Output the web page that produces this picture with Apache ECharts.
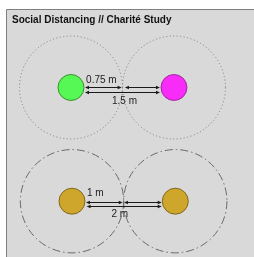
<!DOCTYPE html>
<html><head><meta charset="utf-8">
<script src="https://cdn.jsdelivr.net/npm/echarts@6/dist/echarts.min.js"></script>
<style>html,body{margin:0;padding:0;background:#fff}#c{width:254px;height:257px}</style>
</head><body><div id="c"></div>
<script>
const titleText = 'Social Distancing // Charité Study';
// person positions (m) along each row
const topPeople = [0, 1.5];
const bottomPeople = [0, 2];
// personal space radius (m)
const topRadius = [0.75, 0.75];
const bottomRadius = [1, 1];
// arrows: [x start, x end, y] in metres
const topArrows = [[0.204, 0.738, 0.0], [0.786, 1.296, 0.0], [0.204, 1.296, -0.063]];
const bottomArrows = [[0.271, 0.982, -0.01], [1.007, 1.737, -0.01], [0.283, 1.737, -0.087]];
// labels: text with [x, y] in metres
const topLabelText = ['0.75 m', '1.5 m'];
const topLabelPos = [[0.22, 0.10], [0.597, -0.207]];
const bottomLabelText = ['1 m', '2 m'];
const bottomLabelPos = [[0.29, 0.149], [0.765, -0.248]];

const chart = echarts.init(document.getElementById('c'), null, {renderer: 'canvas'});
const FONT = '"Liberation Sans", Arial, sans-serif';

function circleRender(stroke, dash) {
  return function (params, api) {
    const c = api.coord([api.value(0), 0]);
    const r = api.size([api.value(1), 0])[0];
    return {type: 'circle', shape: {cx: c[0], cy: c[1], r: r},
      style: {fill: 'none', stroke: stroke, lineWidth: 1, lineDash: dash}};
  };
}
function arrowRender(params, api) {
  const p1 = api.coord([api.value(0), api.value(2)]);
  const p2 = api.coord([api.value(1), api.value(2)]);
  const y = Math.round(p1[1]) + 0.5;
  const L = 4, H = 1.8, col = '#1a1a1a';
  return {type: 'group', children: [
    {type: 'line', shape: {x1: p1[0] + 2, y1: y, x2: p2[0] - 2, y2: y}, style: {stroke: col, lineWidth: 1}},
    {type: 'polygon', shape: {points: [[p1[0], y], [p1[0] + L, y - H], [p1[0] + L, y + H]]}, style: {fill: col}},
    {type: 'polygon', shape: {points: [[p2[0], y], [p2[0] - L, y - H], [p2[0] - L, y + H]]}, style: {fill: col}}
  ]};
}
function labelRender(texts) {
  return function (params, api) {
    const p = api.coord([api.value(0), api.value(1)]);
    return {type: 'text', x: p[0], y: p[1], style: {text: texts[params.dataIndex], fill: '#222',
      font: '10px ' + FONT, align: 'left', verticalAlign: 'middle'}};
  };
}
function personSeries(xs, idx, colors, border) {
  return {type: 'scatter', xAxisIndex: idx, yAxisIndex: idx, symbol: 'circle', symbolSize: 26, z: 5,
    silent: true,
    data: xs.map((x, i) => ({value: [x, 0], itemStyle: {color: colors[i], borderColor: border[i], borderWidth: 1}}))};
}

const option = {
  animation: false,
  backgroundColor: '#ffffff',
  title: {text: titleText, left: 12, top: 15, padding: 0,
    textStyle: {fontSize: 10, fontWeight: 'bold', color: '#111', fontFamily: FONT, lineHeight: 10}},
  graphic: [{type: 'rect', z: -10, shape: {x: 6.5, y: 9.5, width: 260, height: 260},
    style: {fill: '#d9d9d9', stroke: '#7f7f7f', lineWidth: 1}}],
  grid: [
    {left: 2.33, width: 240.3, top: 18.83, height: 137.3, outerBoundsMode: 'none', containLabel: false},
    {left: 20.35, width: 206.6, top: 149.55, height: 103.3, outerBoundsMode: 'none', containLabel: false}
  ],
  xAxis: [
    {type: 'value', gridIndex: 0, min: -1, max: 2.5, show: false},
    {type: 'value', gridIndex: 1, min: -1, max: 3, show: false}
  ],
  yAxis: [
    {type: 'value', gridIndex: 0, min: -1, max: 1, show: false},
    {type: 'value', gridIndex: 1, min: -1, max: 1, show: false}
  ],
  series: [
    {type: 'custom', xAxisIndex: 0, yAxisIndex: 0, silent: true, z: 2,
      renderItem: circleRender('#7c7c7c', [1, 2.5]),
      data: topPeople.map((x, i) => [x, topRadius[i]])},
    {type: 'custom', xAxisIndex: 1, yAxisIndex: 1, silent: true, z: 2,
      renderItem: circleRender('#6a6a6a', [8, 3, 1.5, 3]),
      data: bottomPeople.map((x, i) => [x, bottomRadius[i]])},
    personSeries(topPeople, 0, ['#33ff33', '#ff00ff'], ['#2a7a1a', '#8a1a8a']),
    personSeries(bottomPeople, 1, ['#cc9900', '#cc9900'], ['#6e5410', '#6e5410']),
    {type: 'custom', xAxisIndex: 0, yAxisIndex: 0, silent: true, z: 4, renderItem: arrowRender, data: topArrows},
    {type: 'custom', xAxisIndex: 1, yAxisIndex: 1, silent: true, z: 4, renderItem: arrowRender, data: bottomArrows},
    {type: 'custom', xAxisIndex: 0, yAxisIndex: 0, silent: true, z: 6, renderItem: labelRender(topLabelText),
      data: topLabelPos},
    {type: 'custom', xAxisIndex: 1, yAxisIndex: 1, silent: true, z: 6, renderItem: labelRender(bottomLabelText),
      data: bottomLabelPos}
  ]
};
chart.setOption(option);
</script></body></html>
